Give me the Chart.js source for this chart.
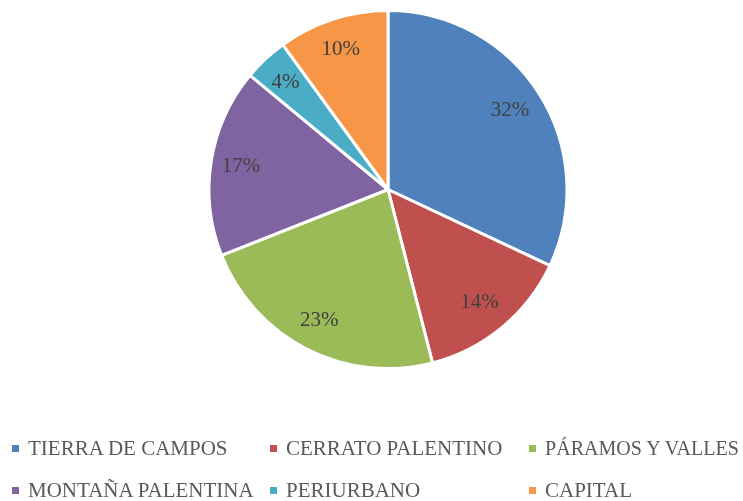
<!DOCTYPE html>
<html>
<head>
<meta charset="utf-8">
<script src="https://cdn.jsdelivr.net/npm/chart.js@4/dist/chart.umd.min.js"></script>
<style>
  html, body { margin: 0; padding: 0; background: #fff; }
  #wrap { width: 743px; height: 501px; }
</style>
</head>
<body>
<div id="wrap"><canvas id="chart" width="743" height="501"></canvas></div>
<script>
const categories = ["TIERRA DE CAMPOS", "CERRATO PALENTINO", "PÁRAMOS Y VALLES", "MONTAÑA PALENTINA", "PERIURBANO", "CAPITAL"];
const shares = [32, 14, 23, 17, 4, 10];
const colors = ["#4F81BD", "#C0504D", "#9BBB59", "#8064A2", "#4BACC6", "#F79646"];

const serif = "'Liberation Serif', 'Times New Roman', serif";

// percent labels inside the slices
const sliceLabels = {
    id: "sliceLabels",
    afterDatasetsDraw(chart) {
        const { ctx } = chart;
        const meta = chart.getDatasetMeta(0);
        ctx.save();
        ctx.font = "21px " + serif;
        ctx.fillStyle = "#404040";
        ctx.textAlign = "center";
        ctx.textBaseline = "middle";
        meta.data.forEach((arc, i) => {
            const p = arc.getProps(["x", "y", "startAngle", "endAngle", "outerRadius"], true);
            const mid = (p.startAngle + p.endAngle) / 2;
            const r = p.outerRadius * 0.82;
            ctx.fillText(shares[i] + "%", p.x + Math.cos(mid) * r - 2, p.y + Math.sin(mid) * r);
        });
        ctx.restore();
    }
};

// legend laid out in a 3-column grid, like the original
const gridLegend = {
    id: "gridLegend",
    afterDraw(chart) {
        const { ctx, width } = chart;
        const cols = [12, 270, 529];
        const rows = [455, 497];
        ctx.save();
        ctx.font = "21px " + serif;
        ctx.fontKerning = "normal";
        ctx.textAlign = "left";
        ctx.textBaseline = "alphabetic";
        categories.forEach((name, i) => {
            const x = cols[i % 3];
            const y = rows[Math.floor(i / 3)];
            const room = (i % 3 < 2 ? cols[i % 3 + 1] : width) - x - 20;
            ctx.fillStyle = colors[i];
            ctx.fillRect(x, y - 10, 7, 7);
            ctx.fillStyle = "#595959";
            ctx.fillText(name, x + 16, y, room);
        });
        ctx.restore();
    }
};

new Chart(document.getElementById("chart"), {
    type: "pie",
    data: {
        labels: categories,
        datasets: [
            {
                data: shares,
                backgroundColor: colors,
                borderColor: "#ffffff",
                borderWidth: 3
            }
        ]
    },
    options: {
        responsive: false,
        animation: false,
        layout: {
            padding: { top: 9, bottom: 131, left: 33, right: 0 }
        },
        plugins: {
            legend: { display: false },
            tooltip: { enabled: false }
        }
    },
    plugins: [sliceLabels, gridLegend]
});
</script>
</body>
</html>
